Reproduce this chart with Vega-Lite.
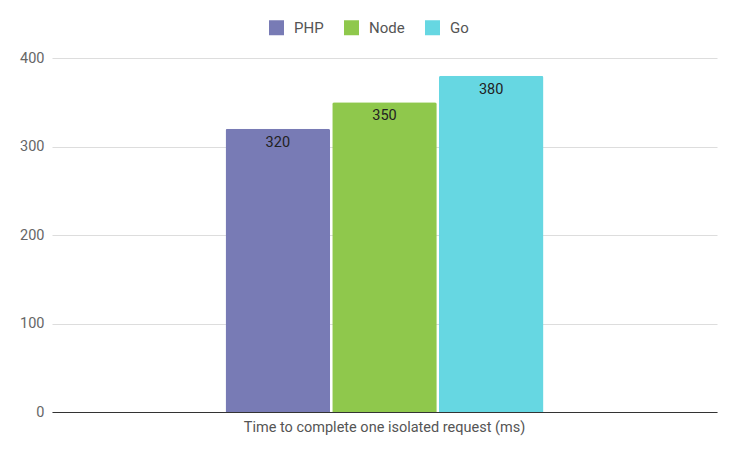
{
  "$schema": "https://vega.github.io/schema/vega-lite/v6.json",
  "width": 665,
  "height": 354,
  "autosize": {"type": "none"},
  "padding": {"left": 52, "top": 58, "right": 23, "bottom": 46},
  "background": "white",
  "config": {
    "font": "Roboto",
    "view": {"stroke": null},
    "axis": {"labelFont": "Roboto", "titleFont": "Roboto"},
    "legend": {"labelFont": "Roboto"}
  },
  "data": {
    "values": [
      {"metric": "Time to complete one isolated request (ms)", "language": "PHP", "ms": 320},
      {"metric": "Time to complete one isolated request (ms)", "language": "Node", "ms": 350},
      {"metric": "Time to complete one isolated request (ms)", "language": "Go", "ms": 380}
    ]
  },
  "encoding": {
    "x": {
      "field": "metric",
      "type": "nominal",
      "title": null,
      "scale": {"paddingInner": 0, "paddingOuter": 0.546},
      "axis": {
        "labelAngle": 0,
        "labelLimit": 0,
        "ticks": false,
        "labelPadding": 8,
        "labelFontSize": 14.5,
        "labelColor": "#555555",
        "domainColor": "#333333",
        "domainWidth": 1,
        "grid": false
      }
    },
    "xOffset": {
      "field": "language",
      "type": "nominal",
      "sort": ["PHP", "Node", "Go"],
      "scale": {"paddingInner": 0.02, "paddingOuter": 0}
    },
    "y": {
      "field": "ms",
      "type": "quantitative",
      "title": null,
      "scale": {"domain": [0, 400]},
      "axis": {
        "values": [0, 100, 200, 300, 400],
        "ticks": false,
        "domain": false,
        "labelPadding": 8,
        "labelFontSize": 14.5,
        "labelColor": "#666666",
        "gridColor": "#dddddd",
        "gridWidth": 1
      }
    }
  },
  "layer": [
    {
      "mark": {"type": "bar", "cornerRadiusTopLeft": 2, "cornerRadiusTopRight": 2},
      "encoding": {
        "color": {
          "field": "language",
          "type": "nominal",
          "sort": ["PHP", "Node", "Go"],
          "scale": {"domain": ["PHP", "Node", "Go"], "range": ["#787bb5", "#8fc84c", "#66d7e2"]},
          "legend": {
            "title": null,
            "orient": "none",
            "direction": "horizontal",
            "legendX": 217,
            "legendY": -38,
            "symbolType": "square",
            "symbolSize": 225,
            "symbolStrokeWidth": 0,
            "symbolOpacity": 1,
            "labelFontSize": 15,
            "labelColor": "#555555",
            "labelOffset": 10,
            "columnPadding": 20
          }
        }
      }
    },
    {
      "mark": {"type": "text", "baseline": "middle", "dy": 14, "fontSize": 14.5, "color": "#222222"},
      "encoding": {"text": {"field": "ms", "type": "quantitative"}}
    }
  ]
}
